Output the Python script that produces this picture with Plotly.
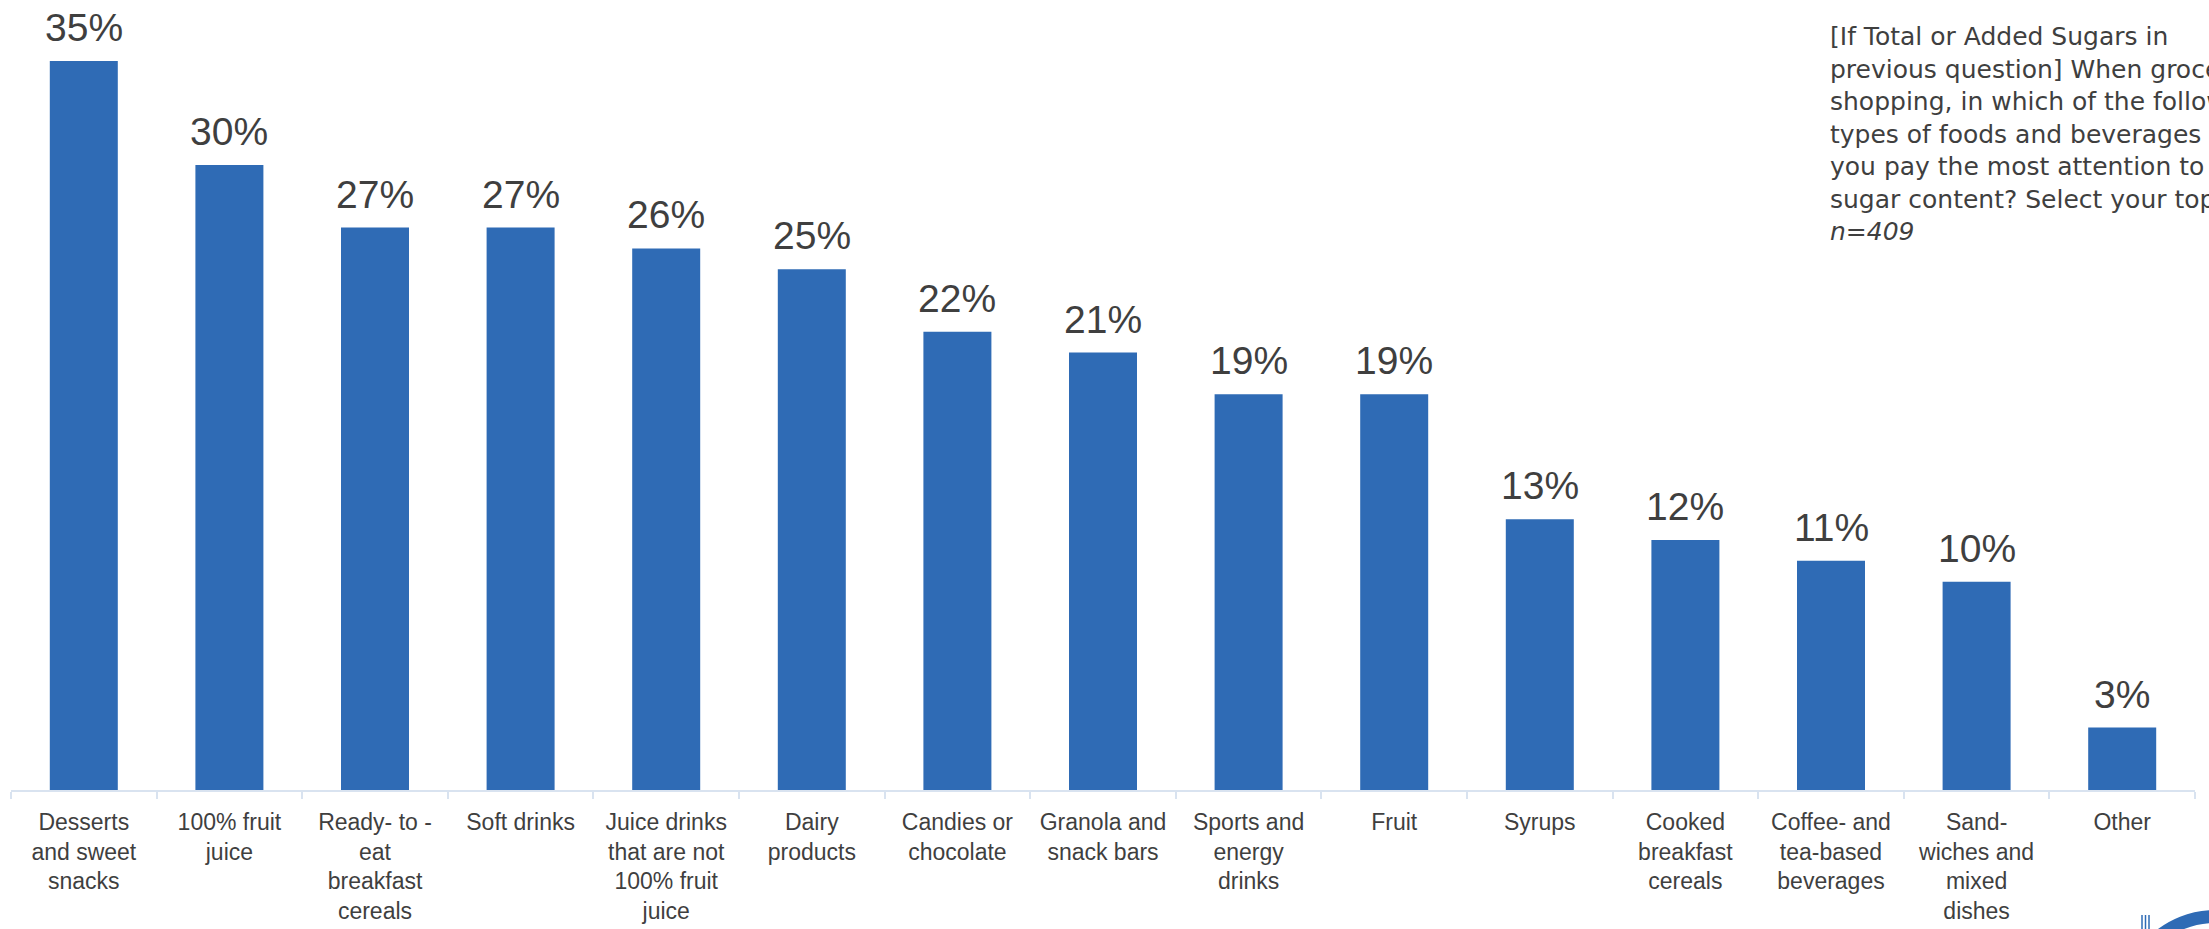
import plotly.graph_objects as go

# Food / beverage categories (line breaks as printed under each bar)
categories = [
    "Desserts<br>and sweet<br>snacks",
    "100% fruit<br>juice",
    "Ready- to -<br>eat<br>breakfast<br>cereals",
    "Soft drinks",
    "Juice drinks<br>that are not<br>100% fruit<br>juice",
    "Dairy<br>products",
    "Candies or<br>chocolate",
    "Granola and<br>snack bars",
    "Sports and<br>energy<br>drinks",
    "Fruit",
    "Syrups",
    "Cooked<br>breakfast<br>cereals",
    "Coffee- and<br>tea-based<br>beverages",
    "Sand-<br>wiches and<br>mixed<br>dishes",
    "Other",
]

# Share of respondents (%)
values = [35, 30, 27, 27, 26, 25, 22, 21, 19, 19, 13, 12, 11, 10, 3]

question_lines = [
    "[If Total or Added Sugars in",
    "previous question] When grocery",
    "shopping, in which of the following",
    "types of foods and beverages do",
    "you pay the most attention to the",
    "sugar content? Select your top 3.",
    "<i>n=409</i>",
]

W, H = 2209, 929
M_L, M_R, M_T, M_B = 11, 14, 0, 139
PLOT_W = W - M_L - M_R
PLOT_H = H - M_T - M_B

BAR_BLUE = "#2F6BB5"
TEXT_GREY = "#3F3F3F"
AXIS_BLUE = "#D9E3F0"

fig = go.Figure()

fig.add_trace(
    go.Bar(
        x=categories,
        y=values,
        marker=dict(color=BAR_BLUE, line=dict(width=0)),
        hoverinfo="skip",
    )
)

# Percentage labels above each bar
for cat, val in zip(categories, values):
    fig.add_annotation(
        x=cat,
        y=val,
        xref="x",
        yref="y",
        text=f"{val}%",
        showarrow=False,
        xanchor="center",
        yanchor="bottom",
        yshift=10,
        font=dict(family="Liberation Sans, Arial, sans-serif", size=39, color=TEXT_GREY),
    )

# Survey question, top right
fig.add_annotation(
    x=(1828 - M_L) / PLOT_W,
    y=1 - 20 / PLOT_H,
    xref="paper",
    yref="paper",
    text="<br>".join(question_lines),
    showarrow=False,
    xanchor="left",
    yanchor="top",
    align="left",
    font=dict(family="DejaVu Sans, Verdana, sans-serif", size=25, color=TEXT_GREY),
)


# Corner logo fragment
def px_x(px):
    return (px - M_L) / PLOT_W


def px_y(py):
    return 1 - (py - M_T) / PLOT_H


fig.add_shape(
    type="circle",
    xref="paper",
    yref="paper",
    x0=px_x(2126.5),
    x1=px_x(2303.5),
    y0=px_y(1093.5),
    y1=px_y(916.5),
    line=dict(color=BAR_BLUE, width=13),
    fillcolor="rgba(0,0,0,0)",
)
for lx in (2142, 2145.5, 2149):
    fig.add_shape(
        type="line",
        xref="paper",
        yref="paper",
        x0=px_x(lx),
        x1=px_x(lx),
        y0=px_y(915),
        y1=px_y(935),
        line=dict(color=BAR_BLUE, width=1.5),
    )

fig.update_layout(
    width=W,
    height=H,
    margin=dict(l=M_L, r=M_R, t=M_T, b=M_B, pad=0),
    paper_bgcolor="white",
    plot_bgcolor="white",
    bargap=0.533,
    showlegend=False,
    xaxis=dict(
        type="category",
        showgrid=False,
        zeroline=False,
        showline=True,
        linecolor=AXIS_BLUE,
        linewidth=2,
        ticks="outside",
        tickson="boundaries",
        ticklen=7,
        tickwidth=2,
        tickcolor=AXIS_BLUE,
        ticklabelstandoff=10,
        tickangle=0,
        tickfont=dict(family="Liberation Sans, Arial, sans-serif", size=23, color=TEXT_GREY),
        fixedrange=True,
    ),
    yaxis=dict(
        range=[0, PLOT_H / 20.83],
        visible=False,
        showgrid=False,
        zeroline=False,
        fixedrange=True,
    ),
)

fig.write_html("out.html", config={"displayModeBar": False})
